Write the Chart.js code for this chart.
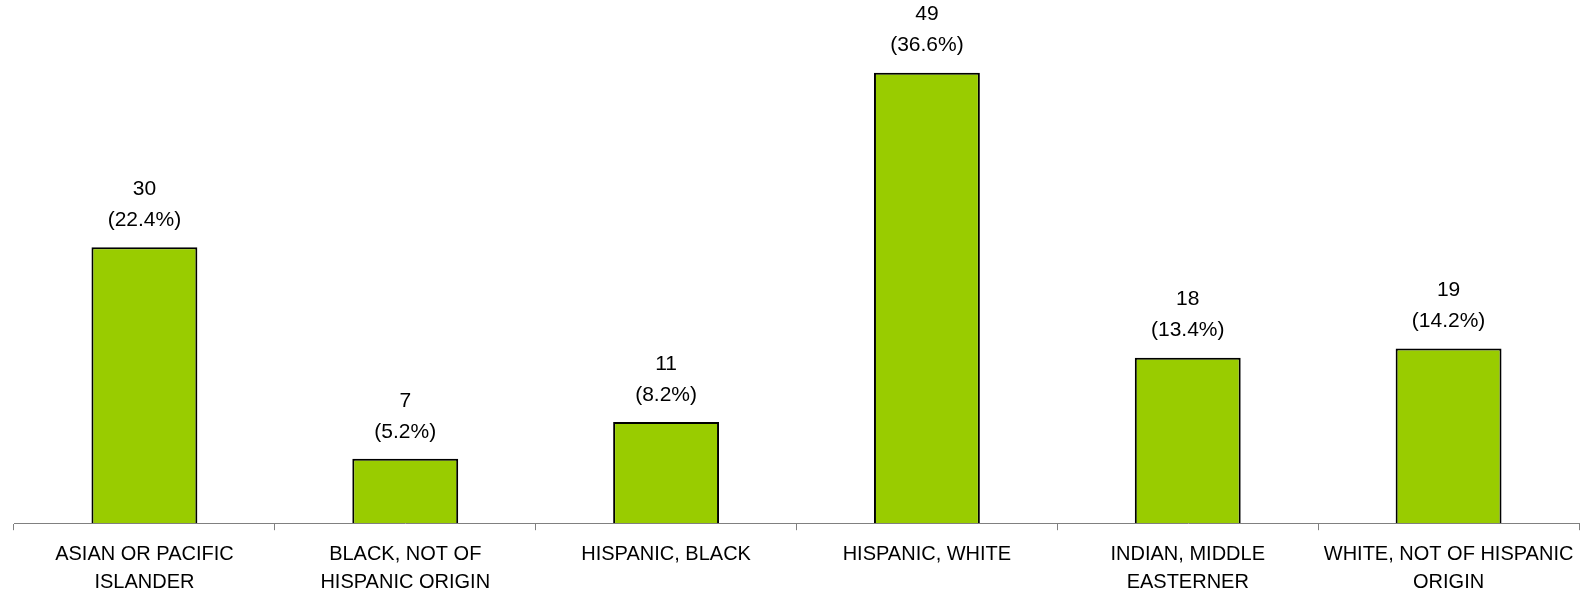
<!DOCTYPE html>
<html>
<head>
<meta charset="utf-8">
<script src="https://cdn.jsdelivr.net/npm/chart.js@4"></script>
<style>
    html, body { margin: 0; padding: 0; background: #fff; }
    #wrap { width: 1585px; height: 592px; }
</style>
</head>
<body>
<div id="wrap"><canvas id="raceChart" width="1585" height="592"></canvas></div>
<script>
// ===== DATA =====
const categories = [
    ["ASIAN OR PACIFIC", "ISLANDER"],
    ["BLACK, NOT OF", "HISPANIC ORIGIN"],
    ["HISPANIC, BLACK"],
    ["HISPANIC, WHITE"],
    ["INDIAN, MIDDLE", "EASTERNER"],
    ["WHITE, NOT OF HISPANIC", "ORIGIN"]
];
const counts = [30, 7, 11, 49, 18, 19];
const percents = ["22.4%", "5.2%", "8.2%", "36.6%", "13.4%", "14.2%"];

// ===== LABELS ABOVE BARS =====
const barLabels = {
    id: "barLabels",
    afterDatasetsDraw(chart) {
        const ctx = chart.ctx;
        const meta = chart.getDatasetMeta(0);
        ctx.save();
        ctx.font = "21px 'Liberation Sans', Arial, sans-serif";
        ctx.fillStyle = "#000";
        ctx.textAlign = "center";
        ctx.textBaseline = "middle";
        meta.data.forEach((bar, i) => {
            ctx.fillText(String(counts[i]), bar.x, bar.y - 58);
            ctx.fillText("(" + percents[i] + ")", bar.x, bar.y - 27);
        });
        ctx.restore();
    }
};

new Chart(document.getElementById("raceChart"), {
    type: "bar",
    data: {
        labels: categories,
        datasets: [{
            data: counts,
            backgroundColor: "#99CC00",
            borderColor: "#000",
            borderWidth: 2,
            barPercentage: 0.406,
            categoryPercentage: 1
        }]
    },
    options: {
        responsive: false,
        animation: false,
        layout: { padding: { top: 0, left: 14, right: 6, bottom: -15 } },
        plugins: {
            legend: { display: false },
            tooltip: { enabled: false }
        },
        scales: {
            x: {
                grid: {
                    offset: true,
                    drawOnChartArea: false,
                    drawTicks: true,
                    tickLength: 7,
                    color: "#808080"
                },
                border: { display: true, color: "#808080", width: 1 },
                ticks: {
                    color: "#000",
                    padding: 10,
                    maxRotation: 0,
                    autoSkip: false,
                    font: { family: "'Liberation Sans', Arial, sans-serif", size: 20, lineHeight: 1.42 }
                }
            },
            y: {
                display: false,
                min: 0,
                max: 56.9
            }
        }
    },
    plugins: [barLabels]
});
</script>
</body>
</html>
